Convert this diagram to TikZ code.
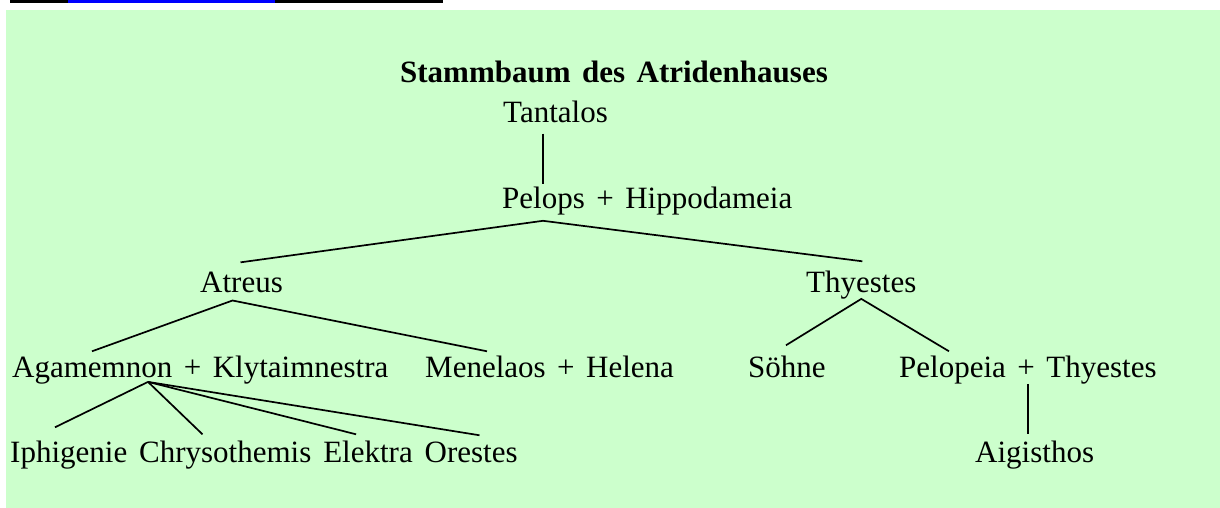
\documentclass[tikz,border=0pt]{standalone}
\usepackage{fontspec}
\setmainfont{Liberation Serif}
\usepackage{tikz}
\usetikzlibrary{positioning}
\definecolor{treegreen}{HTML}{CCFFCC}
\definecolor{linkblue}{HTML}{0000FF}
\newcommand{\treefont}{\fontsize{31}{37}\selectfont\spaceskip=11.5pt\relax}

\begin{document}
\begin{tikzpicture}[x=1pt, y=-1pt,
  person/.style={inner sep=0pt, anchor=base west, font=\treefont},
  kin/.style={line width=1.7pt}]
  % Frame and background
  \useasboundingbox (0,0) rectangle (1220,508);
  \fill[treegreen] (6,10) rectangle (1220,508);
  % Cut-off line at the top edge
  \fill[black] (10,0) rectangle (443,3);
  \fill[linkblue] (68,0) rectangle (275,3);
  % Title
  \node[person, anchor=base, font=\treefont\bfseries] (title) at (614,83) {Stammbaum des Atridenhauses};
  % Generations
  \node[person] (tantalos) at (503,123) {Tantalos};
  \node[person] (pelops) at (502,208) {Pelops + Hippodameia};
  \node[person] (atreus) at (200,292) {Atreus};
  \node[person] (thyestes) at (806,292) {Thyestes};
  \node[person] (agamemnon) at (12,377) {Agamemnon + Klytaimnestra};
  \node[person] (menelaos) at (425,377) {Menelaos + Helena};
  \node[person] (soehne) at (748,377) {Söhne};
  \node[person] (pelopeia) at (899,377) {Pelopeia + Thyestes};
  \node[person] (aigisthos) at (975,462) {Aigisthos};
  % Children of Agamemnon, one line
  \node[person] (iphigenie) at (10,462) {Iphigenie};
  \node[person, base right=11.5pt of iphigenie] (chrysothemis) {Chrysothemis};
  \node[person, base right=11.5pt of chrysothemis] (elektra) {Elektra};
  \node[person, base right=11.5pt of elektra] (orestes) {Orestes};
  % Lines of descent
  \draw[kin] ([shift={(40,10)}]tantalos.south west) -- ([shift={(41,-2)}]pelops.north west);
  \draw[kin] ([shift={(-1,-9)}]atreus.north) -- ([shift={(41,6)}]pelops.south west)
    -- ([shift={(1,-9)}]thyestes.north);
  \draw[kin] ([shift={(80,-4)}]agamemnon.north west) -- ([shift={(-9,8)}]atreus.south)
    -- ([shift={(62,-4)}]menelaos.north west);
  \draw[kin] ([shift={(-1,-10)}]soehne.north) -- (thyestes.south)
    -- ([shift={(50,-4)}]pelopeia.north west);
  \draw[kin] (pelopeia.south) -- ([yshift=6pt]pelopeia.south |- aigisthos.north);
  \foreach \kid/\dx/\dy in {iphigenie/45/-13, chrysothemis/63.5/-6, elektra/33/-6, orestes/55/-6}
    \draw[kin] ([shift={(136,-2)}]agamemnon.south west) -- ([shift={(\dx,\dy)}]\kid.north west);
\end{tikzpicture}
\end{document}
